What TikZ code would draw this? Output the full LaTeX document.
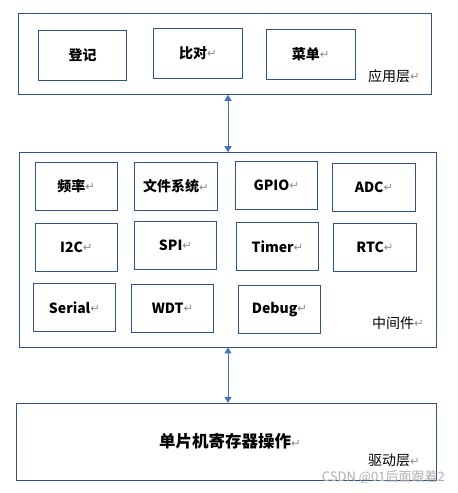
\documentclass[tikz,border=0pt]{standalone}
\usepackage{fontspec}
\setmainfont{Noto Sans CJK SC}
\newfontfamily\symfont{DejaVu Sans}
\usetikzlibrary{arrows.meta, positioning}
\definecolor{boxblue}{RGB}{47,82,143}
\definecolor{arrowblue}{RGB}{68,114,196}
\definecolor{markgray}{RGB}{140,140,140}
\definecolor{wmgray}{RGB}{175,175,175}
\newcommand{\pmark}{{\symfont\mdseries\fontsize{11.5}{12}\selectfont\color{markgray}\raisebox{0.8pt}{↵}}}

\begin{document}
\begin{tikzpicture}[x=1pt, y=-1pt,
        layer/.style={draw=boxblue, line width=0.9pt, inner sep=0pt},
        unit/.style={draw=boxblue, line width=0.9pt, minimum width=82.5pt, minimum height=48pt, inner sep=0pt, font=\bfseries\fontsize{14}{16}\selectfont},
        tag/.style={anchor=west, inner sep=0pt, font=\fontsize{14}{16}\selectfont},
        link/.style={{Triangle[width=7pt,length=6pt]}-{Triangle[width=7pt,length=6pt]}, arrowblue, line width=0.9pt}
    ]
        \useasboundingbox (0,0) rectangle (458,493);
        % application layer
        \node[layer, minimum width=413.4pt, minimum height=81pt] (applayer) at (225,53.8) {};
        \node[unit, minimum width=88.4pt, minimum height=50pt] (login) at (82.5,55.3) {登记};
        \node[unit, minimum width=89.4pt, minimum height=50pt] (compare) at (198,53.3) {比对\pmark};
        \node[unit, minimum width=89.3pt, minimum height=50pt] (menu) at (310.7,54.2) {菜单\pmark};
        \node[tag] (applabel) at (368,76) {应用层\pmark};

        % middleware
        \node[layer, minimum width=417.4pt, minimum height=194.3pt] (midlayer) at (228,249.8) {};
        \node[unit] (freq) at (76.3,186.3) {频率\pmark};
        \node[unit] (fs) at (176,186.5) {文件系统\pmark};
        \node[unit] (gpio) at (276.3,185.5) {GPIO\pmark};
        \node[unit] (adc) at (374,187.3) {ADC\pmark};
        \node[unit] (iic) at (76.3,247.3) {I2C\pmark};
        \node[unit] (spi) at (175.5,245.3) {SPI\pmark};
        \node[unit] (timer) at (277.5,246.3) {Timer\pmark};
        \node[unit] (rtc) at (375,247.3) {RTC\pmark};
        \node[unit] (serial) at (74.5,307.5) {Serial\pmark};
        \node[unit] (wdt) at (172.5,308.3) {WDT\pmark};
        \node[unit] (debug) at (279.5,309.3) {Debug\pmark};
        \node[tag] (midlabel) at (372,322.7) {中间件\pmark};

        % driver layer
        \node[layer, minimum width=420.4pt, minimum height=76.7pt] (drvlayer) at (226.5,441.7) {};
        \node[inner sep=0pt, font=\bfseries\fontsize{16.5}{18}\selectfont] (regops) at (230,441.7) {单片机寄存器操作\pmark};
        \node[tag] (drvlabel) at (368,460.7) {驱动层\pmark};
        \node[anchor=west, inner sep=0pt, text=wmgray, font=\fontsize{13}{15}\selectfont] (watermark) at (321.7,477.3) {CSDN @01后面跟着2};

        \draw[link] (applayer.south -| midlayer.north) -- (midlayer.north);
        \draw[link] (midlayer.south) -- (drvlayer.north -| midlayer.south);
    \end{tikzpicture}
\end{document}
